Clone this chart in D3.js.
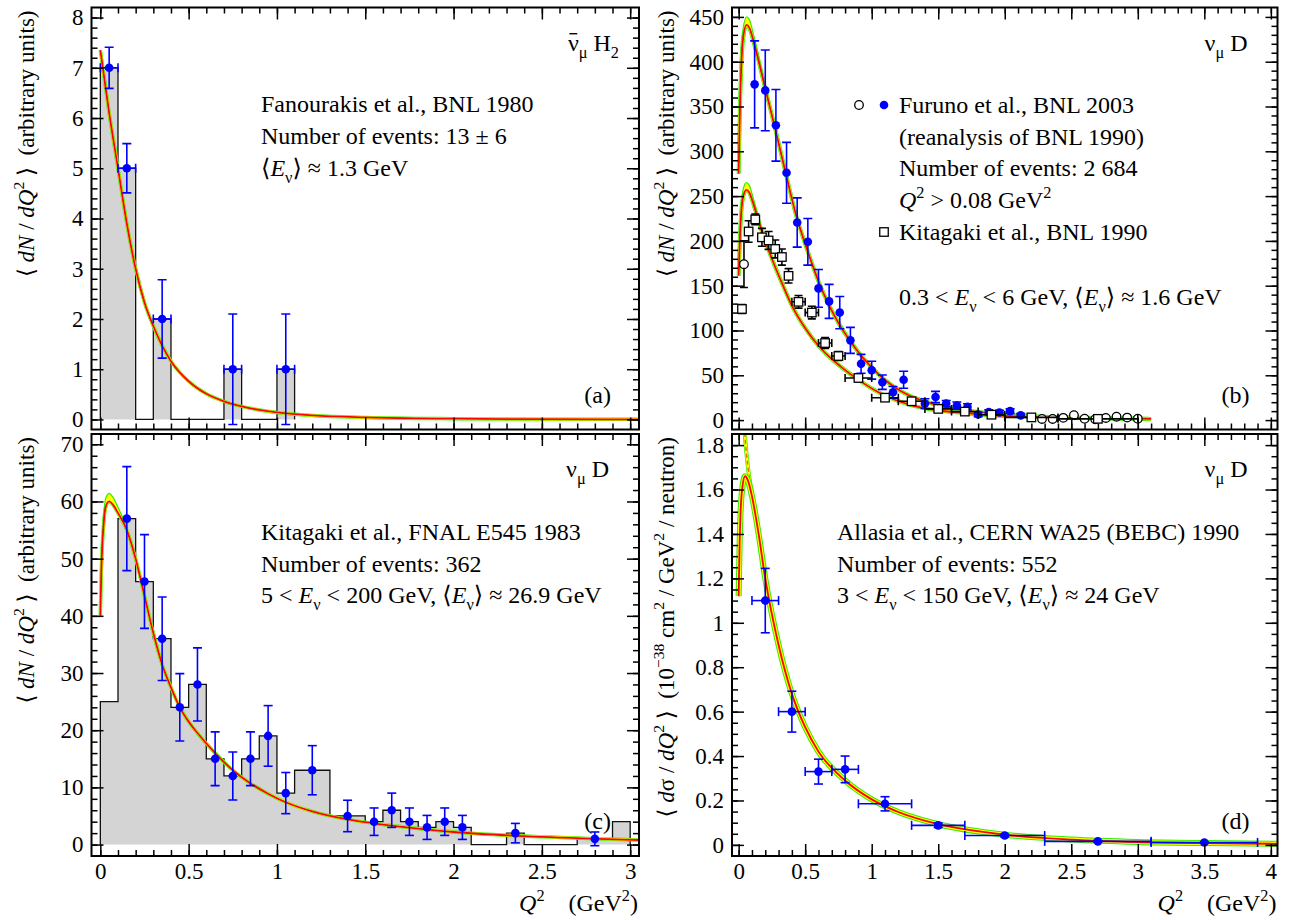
<!DOCTYPE html>
<html><head><meta charset="utf-8">
<script src="https://cdn.jsdelivr.net/npm/d3@7/dist/d3.min.js"></script>
<style>
html,body{margin:0;padding:0;background:#fff;}
svg{display:block;}
text{font-family:"Liberation Serif","DejaVu Serif",serif;white-space:pre;fill:#000;}
</style></head><body>
<svg id="chart" width="1289" height="920"></svg>
<script>
// ---------- tick labels ----------
const xTicksLeft  = [0, 0.5, 1, 1.5, 2, 2.5, 3];
const xTicksRight = [0, 0.5, 1, 1.5, 2, 2.5, 3, 3.5, 4];
const yTicksA = [0, 1, 2, 3, 4, 5, 6, 7, 8];
const yTicksB = [0, 50, 100, 150, 200, 250, 300, 350, 400, 450];
const yTicksC = [0, 10, 20, 30, 40, 50, 60, 70];
const yTicksD = [0, 0.2, 0.4, 0.6, 0.8, 1, 1.2, 1.4, 1.6, 1.8];

// ---------- panel (a): Fanourakis, BNL 1980 ----------
const aBinEdges = [0, 0.1, 0.2, 0.3, 0.4, 0.5, 0.6, 0.7, 0.8, 0.9, 1.0, 1.1];
const aBinCounts = [7, 5, 0, 2, 0, 0, 0, 1, 0, 0, 1];
// [Q2, value, yErr, xErr]
const aPoints = [[0.05, 7, 0.41, 0.05], [0.15, 5, 0.49, 0.05], [0.35, 2, 0.78, 0.05], [0.75, 1, 1.1, 0.05], [1.05, 1, 1.1, 0.05]];
const aCurve = [[0, 7.35], [0.05, 6.1], [0.1, 5.0], [0.15, 3.9], [0.2, 3.0], [0.25, 2.33], [0.3, 1.86], [0.35, 1.47], [0.4, 1.16], [0.5, 0.76], [0.6, 0.51], [0.7, 0.36], [0.8, 0.26], [0.9, 0.19], [1.0, 0.14], [1.2, 0.08], [1.5, 0.04], [2.0, 0.015], [2.5, 0.006], [3.05, 0.002]];

// ---------- panel (b): Furuno BNL 2003 / Kitagaki BNL 1990 ----------
const bFurunoFilled = [[0.12, 374.7, 48.5], [0.2, 368, 45], [0.28, 329, 40], [0.36, 276, 34], [0.44, 220.5, 27.5], [0.52, 199, 26], [0.6, 147, 21], [0.68, 132.5, 19], [0.76, 120, 18], [0.84, 89, 14.5], [0.92, 62.8, 10.5], [1.0, 55.7, 10], [1.08, 42.3, 8], [1.16, 31, 6.5], [1.24, 45, 9.5], [1.40, 18.4, 5.5], [1.48, 25.8, 6.3], [1.56, 18.4, 3.5], [1.64, 16.2, 4], [1.72, 14.7, 3.5], [1.80, 6.2, 2.5], [1.88, 9, 2.5], [1.96, 8.5, 2.5], [2.04, 10, 2.5], [2.12, 5.3, 2]];
const bFurunoOpen = [[0.04, 174, 26], [2.28, 1.3, 2], [2.36, 1.3, 2], [2.44, 2.5, 2], [2.52, 5.5, 2.5], [2.60, 1.5, 2], [2.68, 1.0, 2], [2.76, 2.4, 2], [2.84, 3.8, 2], [2.92, 2.8, 2], [3.0, 1.5, 2.5]];
// [Q2, value, yErr, xErr]
const bKitagaki = [[0.025, 124, 5, 0], [0.075, 210.5, 12, 0.025], [0.125, 224, 6, 0.025], [0.175, 204, 10, 0.025], [0.225, 200.5, 10, 0.025], [0.275, 191, 10, 0.025], [0.325, 182, 9, 0.025], [0.375, 161, 8, 0.025], [0.45, 132, 7, 0.05], [0.55, 120, 7, 0.05], [0.65, 86, 6, 0.05], [0.75, 71.5, 5, 0.05], [0.9, 47, 4, 0.1], [1.1, 25, 3, 0.1], [1.3, 21, 3, 0.1], [1.5, 12.5, 2.5, 0.1], [1.7, 9.5, 2, 0.1], [1.9, 6, 1.5, 0.1], [2.2, 3, 1.2, 0.2], [2.7, 1.4, 0.8, 0.3]];
const bCurveUpper = [[0, 275], [0.01, 350], [0.02, 395], [0.035, 428], [0.06, 441], [0.08, 438], [0.12, 418], [0.2, 370], [0.28, 322], [0.353, 276], [0.433, 228], [0.52, 188], [0.6, 155], [0.68, 128], [0.76, 106], [0.84, 88], [0.92, 72], [1.0, 59], [1.066, 49], [1.16, 38], [1.266, 28.5], [1.466, 18], [1.67, 11.5], [1.87, 7.8], [2.17, 4.6], [2.5, 2.8], [2.8, 1.9], [3.1, 1.3]];
const bBandUpper = [[0, 284], [0.01, 360], [0.02, 406], [0.035, 438], [0.06, 450], [0.08, 447], [0.12, 425], [0.2, 372]];
const bCurveLower = [[0, 161], [0.01, 205], [0.02, 232], [0.035, 250], [0.058, 257], [0.08, 254], [0.103, 245], [0.14, 227], [0.178, 209], [0.253, 179], [0.328, 152], [0.403, 127], [0.503, 102], [0.6, 83], [0.7, 68], [0.765, 60], [0.89, 46], [1.09, 28], [1.29, 17], [1.49, 11], [1.69, 8], [1.89, 5.5], [2.09, 4.2], [2.4, 2.8], [2.7, 2], [3.1, 1.3]];
const bBandLower = [[0, 168], [0.01, 213], [0.02, 240], [0.035, 258], [0.058, 265], [0.08, 262], [0.103, 251], [0.14, 230], [0.178, 210]];

// ---------- panel (c): Kitagaki FNAL E545 1983 ----------
const cBinEdges = [0, 0.1, 0.2, 0.3, 0.4, 0.5, 0.6, 0.7, 0.8, 0.9, 1.0, 1.1, 1.3, 1.5, 1.6, 1.7, 1.8, 1.9, 2.0, 2.1, 2.3, 2.4, 2.7, 2.9, 3.0];
const cBinCounts = [25, 57, 46, 36, 24, 28, 15, 12, 15, 19, 9, 13, 5, 4, 6, 4, 3, 4, 3, 0, 2, 0, 1, 4];
const cPoints = [[0.15, 57, 9.1, 0], [0.25, 46, 8.2, 0], [0.35, 36, 7.3, 0], [0.45, 24, 5.9, 0], [0.55, 28, 6.4, 0], [0.65, 15, 4.7, 0], [0.75, 12, 4.2, 0], [0.85, 15, 4.7, 0], [0.95, 19, 5.3, 0], [1.05, 9, 3.6, 0], [1.2, 13, 4.3, 0], [1.4, 5, 2.75, 0], [1.55, 4, 2.4, 0], [1.65, 6, 3, 0], [1.75, 4, 2.4, 0], [1.85, 3, 2.1, 0], [1.95, 4, 2.4, 0], [2.05, 3, 2.1, 0], [2.35, 2, 1.7, 0], [2.8, 1, 1.2, 0]];
const cCurve = [[0, 40], [0.005, 47], [0.01, 51.5], [0.02, 56.5], [0.03, 59], [0.05, 60], [0.07, 59.5], [0.1, 58], [0.15, 55], [0.2, 50], [0.25, 43.5], [0.3, 37], [0.35, 31.5], [0.4, 27.5], [0.45, 24], [0.5, 21.5], [0.55, 19.5], [0.65, 16], [0.75, 13], [0.85, 10.7], [0.95, 8.9], [1.05, 7.4], [1.2, 5.8], [1.4, 4.4], [1.6, 3.5], [1.8, 2.8], [2.0, 2.2], [2.5, 1.35], [3.05, 0.8]];
const cBand = [[0, 41], [0.005, 48.3], [0.01, 53], [0.02, 58], [0.03, 60.5], [0.05, 61.4], [0.07, 60.8], [0.1, 59], [0.15, 55.5]];

// ---------- panel (d): Allasia CERN WA25 1990 ----------
// [Q2, value, yErr, xErr]
const dPoints = [[0.2, 1.1, 0.145, 0.1], [0.4, 0.6, 0.092, 0.1], [0.6, 0.33, 0.056, 0.1], [0.8, 0.34, 0.06, 0.1], [1.1, 0.185, 0.032, 0.2], [1.5, 0.088, 0.01, 0.2], [2.0, 0.042, 0.006, 0.3], [2.7, 0.016, 0.004, 0.4], [3.5, 0.011, 0.003, 0.4]];
const dCurve = [[0, 1.12], [0.007, 1.35], [0.014, 1.49], [0.028, 1.61], [0.048, 1.66], [0.07, 1.64], [0.1, 1.57], [0.15, 1.40], [0.2, 1.2], [0.3, 0.9], [0.4, 0.68], [0.5, 0.53], [0.6, 0.42], [0.8, 0.29], [1.0, 0.205], [1.2, 0.148], [1.5, 0.093], [2.0, 0.046], [2.5, 0.024], [3.0, 0.013], [3.5, 0.008], [4.05, 0.005]];
const dCurveNoPeak = [[0.036, 1.95], [0.05, 1.82], [0.07, 1.7], [0.1, 1.58], [0.125, 1.49], [0.15, 1.41]];

// ---------- drawing ----------
const svg = d3.select('#chart');
const RED = '#ff0000', YEL = '#ffff00', GRN = '#33ee00', BLUE = '#0000ff';
const TICK_FS = 23, TXT_FS = 24, YT_FS = 23;

function makePanel(id, x0, x1, y0, y1, xd, yd) {
  const x = d3.scaleLinear().domain(xd).range([x0, x1]);
  const y = d3.scaleLinear().domain(yd).range([y1, y0]);
  svg.append('clipPath').attr('id', 'clip' + id).append('rect')
    .attr('x', x0).attr('y', y0).attr('width', x1 - x0).attr('height', y1 - y0);
  const g = svg.append('g');
  const plot = g.append('g').attr('clip-path', `url(#clip${id})`);
  return {id, x, y, g, plot, x0, x1, y0, y1};
}

function minorVals(scale, step) {
  const d = scale.domain(), r = scale.range();
  const lo = Math.min(d[0], d[1]), hi = Math.max(d[0], d[1]);
  const out = [];
  for (let i = Math.ceil(lo / step - 1e-9); i <= Math.floor(hi / step + 1e-9); i++) {
    const v = +(i * step).toFixed(6);
    const p = scale(v);
    if (Math.abs(p - r[0]) > 2 && Math.abs(p - r[1]) > 2) out.push(v);
  }
  return out;
}

function styleAxis(sel) {
  sel.select('.domain').remove();
  sel.selectAll('.tick line').attr('stroke', '#000').attr('stroke-width', 1.5);
  sel.attr('font-size', TICK_FS).attr('font-family', '"Liberation Serif","DejaVu Serif",serif');
  sel.selectAll('.tick text').attr('fill', '#000');
}

function axes(P, xMajor, xMinorStep, yMajor, yMinorStep, xLabels) {
  const fmt = d => String(d);
  const A = P.g.append('g');
  const xMin = minorVals(P.x, xMinorStep), yMin = minorVals(P.y, yMinorStep);
  A.append('g').attr('transform', `translate(0,${P.y1})`)
    .call(d3.axisBottom(P.x).tickValues(xMin).tickSize(-6).tickFormat('')).call(styleAxis);
  A.append('g').attr('transform', `translate(0,${P.y1})`)
    .call(d3.axisBottom(P.x).tickValues(xMajor).tickSize(-12).tickPadding(7).tickFormat(xLabels ? fmt : '')).call(styleAxis);
  A.append('g').attr('transform', `translate(0,${P.y0})`)
    .call(d3.axisTop(P.x).tickValues(xMin).tickSize(-6).tickFormat('')).call(styleAxis);
  A.append('g').attr('transform', `translate(0,${P.y0})`)
    .call(d3.axisTop(P.x).tickValues(xMajor).tickSize(-12).tickFormat('')).call(styleAxis);
  A.append('g').attr('transform', `translate(${P.x0},0)`)
    .call(d3.axisLeft(P.y).tickValues(yMin).tickSize(-6).tickFormat('')).call(styleAxis);
  A.append('g').attr('transform', `translate(${P.x0},0)`)
    .call(d3.axisLeft(P.y).tickValues(yMajor).tickSize(-12).tickPadding(8).tickFormat(fmt)).call(styleAxis);
  A.append('g').attr('transform', `translate(${P.x1},0)`)
    .call(d3.axisRight(P.y).tickValues(yMin).tickSize(-6).tickFormat('')).call(styleAxis);
  A.append('g').attr('transform', `translate(${P.x1},0)`)
    .call(d3.axisRight(P.y).tickValues(yMajor).tickSize(-12).tickFormat('')).call(styleAxis);
  P.g.append('rect').attr('x', P.x0).attr('y', P.y0).attr('width', P.x1 - P.x0).attr('height', P.y1 - P.y0)
    .attr('fill', 'none').attr('stroke', '#000').attr('stroke-width', 2);
}

function histogram(P, edges, counts) {
  const pts = [[edges[0], 0]];
  counts.forEach((c, i) => { pts.push([edges[i], c]); pts.push([edges[i + 1], c]); });
  pts.push([edges[edges.length - 1], 0]);
  const ln = d3.line().x(d => P.x(d[0])).y(d => P.y(d[1]));
  P.plot.append('path').attr('d', ln(pts) + 'Z').attr('fill', '#d4d4d4').attr('stroke', 'none');
  P.plot.append('path').attr('d', ln(pts)).attr('fill', 'none').attr('stroke', '#111').attr('stroke-width', 1.3);
}

function curveBand(P, data, hi, wG, wY) {
  const ln = d3.line().x(d => P.x(d[0])).y(d => P.y(d[1])).curve(d3.curveMonotoneX);
  P.plot.append('path').attr('d', ln(data)).attr('fill', 'none').attr('stroke', GRN).attr('stroke-width', wG);
  P.plot.append('path').attr('d', ln(data)).attr('fill', 'none').attr('stroke', YEL).attr('stroke-width', wY);
  if (hi) {
    const main = new Map(data.map(d => [d[0], d[1]]));
    const ar = d3.area().x(d => P.x(d[0])).y0(d => P.y(main.get(d[0]))).y1(d => P.y(d[1])).curve(d3.curveMonotoneX);
    P.plot.append('path').attr('d', ar(hi)).attr('fill', YEL).attr('stroke', 'none');
    P.plot.append('path').attr('d', ln(hi)).attr('fill', 'none').attr('stroke', GRN).attr('stroke-width', 1.2);
  }
  P.plot.append('path').attr('d', ln(data)).attr('fill', 'none').attr('stroke', RED).attr('stroke-width', 1.8);
}

function errorBars(P, pts, color, cap) {
  const g = P.plot.append('g').attr('stroke', color).attr('stroke-width', 1.6).attr('fill', 'none');
  pts.forEach(p => {
    const [q, v, ey, ex] = p;
    const cx = P.x(q), yt = P.y(v + ey), yb = P.y(v - ey);
    g.append('line').attr('x1', cx).attr('x2', cx).attr('y1', yt).attr('y2', yb);
    g.append('line').attr('x1', cx - cap).attr('x2', cx + cap).attr('y1', yt).attr('y2', yt);
    g.append('line').attr('x1', cx - cap).attr('x2', cx + cap).attr('y1', yb).attr('y2', yb);
    if (ex) {
      const xl = P.x(q - ex), xr = P.x(q + ex), cy = P.y(v);
      g.append('line').attr('x1', xl).attr('x2', xr).attr('y1', cy).attr('y2', cy);
      g.append('line').attr('x1', xl).attr('x2', xl).attr('y1', cy - cap).attr('y2', cy + cap);
      g.append('line').attr('x1', xr).attr('x2', xr).attr('y1', cy - cap).attr('y2', cy + cap);
    }
  });
}
function dots(P, pts, fill, stroke, r) {
  P.plot.append('g').selectAll('circle').data(pts).join('circle')
    .attr('cx', d => P.x(d[0])).attr('cy', d => P.y(d[1])).attr('r', r)
    .attr('fill', fill).attr('stroke', stroke).attr('stroke-width', stroke === 'none' ? 0 : 1.3);
}
function squares(P, pts, s) {
  P.plot.append('g').selectAll('rect').data(pts).join('rect')
    .attr('x', d => P.x(d[0]) - s / 2).attr('y', d => P.y(d[1]) - s / 2).attr('width', s).attr('height', s)
    .attr('fill', '#fff').attr('stroke', '#000').attr('stroke-width', 1.3);
}

function rich(sel, parts, size) {
  let cur = 0;
  parts.forEach(p => {
    if (typeof p === 'string') p = {t: p};
    let shift = 0, fs = size;
    if (p.sub) { shift = size * 0.3; fs = size * 0.68; }
    if (p.sup) { shift = -size * 0.42; fs = size * 0.68; }
    const ts = sel.append('tspan').text(p.t).attr('font-size', fs);
    if (shift !== cur) ts.attr('dy', shift - cur);
    cur = shift;
    if (p.i) ts.attr('font-style', 'italic');
  });
  return sel;
}
function label(x, y, parts, anchor, size) {
  const t = svg.append('text').attr('x', x).attr('y', y).attr('text-anchor', anchor || 'start').attr('font-size', size || TXT_FS);
  return rich(t, parts, size || TXT_FS);
}
function yTitle(x, yEnd, parts) {
  const t = svg.append('text').attr('transform', `translate(${x},${yEnd}) rotate(-90)`)
    .attr('text-anchor', 'end').attr('font-size', YT_FS);
  rich(t, parts, YT_FS);
}

const Ev = [{t: 'E', i: 1}, {t: 'ν', sub: 1}];
const dndq = ['⟨ ', {t: 'dN', i: 1}, ' / ', {t: 'dQ', i: 1}, {t: '2', sup: 1}, ' ⟩  (arbitrary units)'];
const xTitle = [{t: 'Q', i: 1}, {t: '2', sup: 1}, '    (GeV', {t: '2', sup: 1}, ')'];

// ---------- panels ----------
const LX0 = 91.5, LX1 = 639, RX0 = 732, RX1 = 1277.5;
const TY0 = 7.5, TY1 = 429.5, BY0 = 434, BY1 = 856;

// (a)
const A = makePanel('a', LX0, LX1, TY0, TY1, [-0.05, 3.05], [-0.2, 8.2]);
histogram(A, aBinEdges, aBinCounts);
curveBand(A, aCurve, null, 3.5, 2.5);
errorBars(A, aPoints, BLUE, 4.5);
dots(A, aPoints, BLUE, 'none', 4.3);
axes(A, xTicksLeft, 0.1, yTicksA, 0.2, false);

// (b)
const B = makePanel('b', RX0, RX1, TY0, TY1, [-0.05, 4.05], [-10.5, 460.5]);
curveBand(B, bCurveUpper, bBandUpper, 4, 2.6);
curveBand(B, bCurveLower, bBandLower, 4, 2.6);
errorBars(B, bFurunoFilled.map(d => [d[0], d[1], d[2], 0]), BLUE, 4.5);
dots(B, bFurunoFilled, BLUE, 'none', 4.3);
errorBars(B, bFurunoOpen.map(d => [d[0], d[1], d[2], 0]), '#000', 4);
dots(B, bFurunoOpen, '#fff', '#000', 4.3);
errorBars(B, bKitagaki, '#000', 4);
squares(B, bKitagaki, 8.5);
axes(B, xTicksRight, 0.1, yTicksB, 10, false);

// (c)
const C = makePanel('c', LX0, LX1, BY0, BY1, [-0.05, 3.05], [-2, 71.8]);
histogram(C, cBinEdges, cBinCounts);
curveBand(C, cCurve, cBand, 3.5, 2.5);
errorBars(C, cPoints, BLUE, 4.5);
dots(C, cPoints, BLUE, 'none', 4.3);
axes(C, xTicksLeft, 0.1, yTicksC, 2, true);

// (d)
const D = makePanel('d', RX0, RX1, BY0, BY1, [-0.05, 4.05], [-0.05, 1.85]);
{
  const ln = d3.line().x(d => D.x(d[0])).y(d => D.y(d[1])).curve(d3.curveMonotoneX);
  D.plot.append('path').attr('d', ln(dCurveNoPeak)).attr('fill', 'none').attr('stroke', GRN).attr('stroke-width', 4);
  D.plot.append('path').attr('d', ln(dCurveNoPeak)).attr('fill', 'none').attr('stroke', YEL).attr('stroke-width', 2.6);
  D.plot.append('path').attr('d', ln(dCurveNoPeak)).attr('fill', 'none').attr('stroke', '#ff6000').attr('stroke-width', 1.4).attr('stroke-dasharray', '4,3');
}
curveBand(D, dCurve, null, 6, 4);
errorBars(D, dPoints, BLUE, 4.5);
dots(D, dPoints, BLUE, 'none', 4.3);
axes(D, xTicksRight, 0.1, yTicksD, 0.05, true);

// ---------- texts ----------
// reaction labels
const antiNu = label(LX1 - 20, TY0 + 43, ['ν', {t: 'μ', sub: 1}, ' H', {t: '2', sub: 1}], 'end');
{
  const node = antiNu.node();
  const e = node.getExtentOfChar(0);
  const yb = TY0 + 43 - TXT_FS * 0.7;
  svg.append('line').attr('x1', e.x + 1.5).attr('x2', e.x + e.width - 1.5).attr('y1', yb).attr('y2', yb)
    .attr('stroke', '#000').attr('stroke-width', 1.4);
}
label(RX1 - 30, TY0 + 43, ['ν', {t: 'μ', sub: 1}, ' D'], 'end');
label(LX1 - 30, BY0 + 43, ['ν', {t: 'μ', sub: 1}, ' D'], 'end');
label(RX1 - 30, BY0 + 43, ['ν', {t: 'μ', sub: 1}, ' D'], 'end');
// panel tags
label(LX1 - 28, TY1 - 27, ['(a)'], 'end');
label(RX1 - 28, TY1 - 27, ['(b)'], 'end');
label(LX1 - 28, BY1 - 27, ['(c)'], 'end');
label(RX1 - 28, BY1 - 27, ['(d)'], 'end');

// (a) annotations
label(261, 112, ['Fanourakis et al., BNL 1980']);
label(261, 144, ['Number of events: 13 ± 6']);
label(261, 176, ['⟨', ...Ev, '⟩ ≈ 1.3 GeV']);

// (b) annotations + legend markers
label(899, 113, ['Furuno et al., BNL 2003']);
label(899, 145, ['(reanalysis of BNL 1990)']);
label(899, 176, ['Number of events: 2 684']);
label(899, 208, [{t: 'Q', i: 1}, {t: '2', sup: 1}, ' > 0.08 GeV', {t: '2', sup: 1}]);
label(899, 240, ['Kitagaki et al., BNL 1990']);
label(899, 305, ['0.3 < ', ...Ev, ' < 6 GeV, ⟨', ...Ev, '⟩ ≈ 1.6 GeV']);
svg.append('circle').attr('cx', 859).attr('cy', 105).attr('r', 4.3).attr('fill', '#fff').attr('stroke', '#000').attr('stroke-width', 1.3);
svg.append('circle').attr('cx', 884).attr('cy', 105).attr('r', 4.3).attr('fill', BLUE);
svg.append('rect').attr('x', 884 - 4.25).attr('y', 232 - 4.25).attr('width', 8.5).attr('height', 8.5).attr('fill', '#fff').attr('stroke', '#000').attr('stroke-width', 1.3);

// (c) annotations
label(261, 540, ['Kitagaki et al., FNAL E545 1983']);
label(261, 572, ['Number of events: 362']);
label(261, 603, ['5 < ', ...Ev, ' < 200 GeV, ⟨', ...Ev, '⟩ ≈ 26.9 GeV']);

// (d) annotations
label(837, 540, ['Allasia et al., CERN WA25 (BEBC) 1990']);
label(837, 572, ['Number of events: 552']);
label(837, 603, ['3 < ', ...Ev, ' < 150 GeV, ⟨', ...Ev, '⟩ ≈ 24 GeV']);

// axis titles
yTitle(LX0 - 58, TY0 + 3, dndq);
yTitle(RX0 - 58, TY0 + 3, dndq);
yTitle(LX0 - 58, BY0 + 3, dndq);
yTitle(RX0 - 58, BY0 + 3, ['⟨ ', {t: 'd', i: 1}, 'σ / ', {t: 'dQ', i: 1}, {t: '2', sup: 1}, ' ⟩  (10', {t: '−38', sup: 1}, ' cm', {t: '2', sup: 1}, ' / GeV', {t: '2', sup: 1}, ' / neutron)']);
label(LX1 - 1, 911, xTitle, 'end');
label(RX1 - 1, 911, xTitle, 'end');
</script>
</body></html>
